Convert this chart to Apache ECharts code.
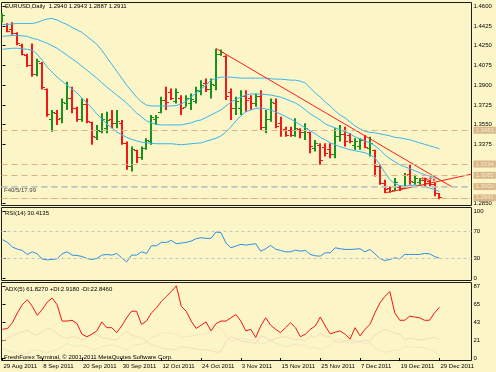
<!DOCTYPE html>
<html><head><meta charset="utf-8">
<script src="https://cdn.jsdelivr.net/npm/echarts@6/dist/echarts.min.js"></script>
<style>html,body{margin:0;padding:0;background:#fcf5c7}#c{width:496px;height:372px}</style>
</head><body><div id="c"></div>
<script>
// ---- data ----
const dateLabels=['29 Aug 2011','8 Sep 2011','20 Sep 2011','30 Sep 2011','12 Oct 2011','24 Oct 2011','3 Nov 2011','15 Nov 2011','25 Nov 2011','7 Dec 2011','19 Dec 2011','29 Dec 2011'];
const barsPerLabel=8;
const open=[1.4465,1.4445,1.4400,1.4365,1.4260,1.4170,1.4080,1.4000,1.4100,1.3870,
1.3600,1.3650,1.3610,1.3745,1.3790,1.3700,1.3600,1.3730,1.3570,1.3440,
1.3490,1.3520,1.3600,1.3560,1.3560,1.3390,1.3180,1.3320,1.3260,1.3345,
1.3400,1.3600,1.3660,1.3770,1.3840,1.3760,1.3790,1.3710,1.3740,1.3760,
1.3850,1.3920,1.3870,1.3900,1.4175,1.4160,1.3840,1.3700,1.3700,1.3800,
1.3790,1.3740,1.3800,1.3530,1.3600,1.3740,1.3560,1.3510,1.3500,1.3460,
1.3510,1.3480,1.3480,1.3340,1.3370,1.3350,1.3330,1.3290,1.3450,1.3470,
1.3460,1.3370,1.3360,1.3410,1.3340,1.3320,1.3180,1.3030,1.2990,1.2970,
1.3000,1.2990,1.3110,1.3040,1.3040,1.3060,1.3050,1.3020,1.2940];
const high=[1.4535,1.4450,1.4458,1.4370,1.4268,1.4179,1.4270,1.4135,1.4105,1.3870,
1.3679,1.3679,1.3782,1.3929,1.3885,1.3708,1.3782,1.3782,1.3575,1.3546,
1.3650,1.3664,1.3679,1.3679,1.3590,1.3400,1.3355,1.3326,1.3355,1.3429,
1.3635,1.3635,1.3796,1.3885,1.3870,1.3870,1.3811,1.3811,1.3826,1.3885,
1.3944,1.3959,1.3959,1.4223,1.4215,1.4164,1.3870,1.3796,1.3855,1.3855,
1.3811,1.3826,1.3855,1.3679,1.3782,1.3782,1.3620,1.3531,1.3531,1.3605,
1.3517,1.3561,1.3487,1.3414,1.3385,1.3385,1.3385,1.3517,1.3546,1.3531,
1.3473,1.3429,1.3429,1.3458,1.3443,1.3326,1.3193,1.3061,1.3000,1.3076,
1.3010,1.3120,1.3193,1.3105,1.3076,1.3078,1.3061,1.3037,1.2943];
const low=[1.4456,1.4370,1.4347,1.4253,1.4164,1.4061,1.3975,1.3979,1.3861,1.3620,
1.3487,1.3546,1.3561,1.3679,1.3650,1.3575,1.3575,1.3561,1.3370,1.3414,
1.3473,1.3473,1.3517,1.3517,1.3370,1.3150,1.3134,1.3208,1.3237,1.3326,
1.3370,1.3546,1.3650,1.3679,1.3767,1.3738,1.3635,1.3708,1.3679,1.3738,
1.3811,1.3840,1.3782,1.3855,1.4160,1.3767,1.3591,1.3635,1.3635,1.3664,
1.3679,1.3708,1.3502,1.3473,1.3575,1.3517,1.3443,1.3443,1.3443,1.3443,
1.3429,1.3414,1.3296,1.3311,1.3193,1.3267,1.3252,1.3252,1.3399,1.3355,
1.3385,1.3326,1.3326,1.3341,1.3267,1.3090,1.3017,1.2943,1.2945,1.2958,
1.2960,1.2987,1.3017,1.3017,1.3017,1.3002,1.3002,1.2913,1.2887];
const close=[1.4520,1.4380,1.4360,1.4270,1.4180,1.4075,1.4000,1.4110,1.3880,1.3640,
1.3660,1.3600,1.3750,1.3790,1.3700,1.3600,1.3730,1.3580,1.3450,1.3500,
1.3600,1.3590,1.3560,1.3580,1.3390,1.3180,1.3330,1.3260,1.3340,1.3410,
1.3620,1.3615,1.3770,1.3750,1.3790,1.3840,1.3700,1.3790,1.3780,1.3860,
1.3900,1.3870,1.3910,1.4180,1.4195,1.3800,1.3700,1.3760,1.3800,1.3770,
1.3740,1.3800,1.3530,1.3600,1.3750,1.3540,1.3500,1.3460,1.3460,1.3520,
1.3480,1.3520,1.3360,1.3390,1.3240,1.3300,1.3290,1.3450,1.3470,1.3400,
1.3400,1.3400,1.3410,1.3350,1.3390,1.3180,1.3030,1.2980,1.2960,1.3040,
1.2985,1.3100,1.3050,1.3080,1.3060,1.3030,1.3020,1.2940,1.2911];
const bbUpper=[1.4438,1.4438,1.4443,1.4447,1.4447,1.4447,1.4447,1.4456,1.4474,1.4487,
1.4491,1.4478,1.4456,1.4438,1.4412,1.4390,1.4368,1.4333,1.4297,1.4262,
1.4209,1.4147,1.4085,1.4024,1.3962,1.3900,1.3847,1.3794,1.3750,1.3724,
1.3715,1.3715,1.3715,1.3715,1.3715,1.3719,1.3732,1.3759,1.3794,1.3830,
1.3865,1.3900,1.3944,1.3962,1.3971,1.3971,1.3971,1.3966,1.3962,1.3962,
1.3962,1.3962,1.3962,1.3962,1.3957,1.3953,1.3953,1.3949,1.3944,1.3944,
1.3935,1.3918,1.3874,1.3830,1.3794,1.3750,1.3715,1.3671,1.3635,1.3609,
1.3574,1.3538,1.3512,1.3490,1.3481,1.3477,1.3468,1.3459,1.3450,1.3437,
1.3432,1.3424,1.3415,1.3402,1.3388,1.3375,1.3362,1.3349,1.3335];
const bbMiddle=[1.4333,1.4337,1.4341,1.4341,1.4337,1.4333,1.4315,1.4306,1.4288,1.4271,
1.4249,1.4227,1.4196,1.4165,1.4134,1.4103,1.4068,1.4033,1.3997,1.3962,
1.3922,1.3883,1.3847,1.3812,1.3777,1.3741,1.3697,1.3653,1.3618,1.3582,
1.3565,1.3551,1.3547,1.3547,1.3547,1.3547,1.3547,1.3556,1.3565,1.3582,
1.3591,1.3613,1.3635,1.3658,1.3680,1.3715,1.3750,1.3772,1.3794,1.3812,
1.3821,1.3821,1.3821,1.3816,1.3812,1.3803,1.3794,1.3777,1.3759,1.3741,
1.3715,1.3680,1.3644,1.3618,1.3591,1.3556,1.3538,1.3521,1.3503,1.3485,
1.3468,1.3441,1.3424,1.3406,1.3388,1.3362,1.3327,1.3282,1.3247,1.3221,
1.3194,1.3176,1.3159,1.3141,1.3123,1.3106,1.3093,1.3079,1.3062];
const bbLower=[1.4218,1.4222,1.4227,1.4227,1.4222,1.4218,1.4209,1.4174,1.4121,1.4059,
1.4015,1.3971,1.3935,1.3900,1.3865,1.3830,1.3785,1.3741,1.3697,1.3644,
1.3600,1.3556,1.3521,1.3485,1.3459,1.3437,1.3419,1.3406,1.3393,1.3388,
1.3384,1.3380,1.3380,1.3380,1.3380,1.3375,1.3371,1.3375,1.3380,1.3384,
1.3388,1.3402,1.3415,1.3428,1.3450,1.3485,1.3529,1.3582,1.3627,1.3662,
1.3680,1.3693,1.3697,1.3689,1.3680,1.3662,1.3644,1.3622,1.3600,1.3574,
1.3547,1.3521,1.3494,1.3468,1.3437,1.3415,1.3388,1.3371,1.3353,1.3340,
1.3327,1.3318,1.3309,1.3300,1.3282,1.3256,1.3194,1.3124,1.3062,1.3026,
1.3009,1.3004,1.3009,1.3013,1.3009,1.3000,1.2987,1.2974,1.2956];
const rsi=[58,54,47,44,42,36,40,37,29,28,
28.5,29.5,37,40,35,34.5,33,30,28.5,30,
35,36,35,37.5,31,25,35,35,40,37.5,
49,49,54,54,57,52,53,54,56,59.5,
61,60,60,69.5,68.5,53,46,48.5,51,50,
51,52,41,44.5,49.5,44,42,40,40,42.5,
41,42,36,34,33.5,38.5,38.5,46,44.5,43.5,
43.5,44,44.5,40,43.5,37,30,27,28.5,31,
29.5,36,36,36,36,37.5,37,33,30.4135];
const adx=[35,36,43,55,65,71,63,52,59,68,
73,65,45,45,46,42,29,26,29,33,
44,37,37,31,39,49,57,57,41,45,
55,61,69,75,81,88,63,57,45,36,
40,44,33,42,45,45,49,53,45,33,
35,25,39,49,40,35,31,37,43,37,
26,29,35,39,50,39,29.5,31.5,33,29,
23,37,27,35,41,55,67,75,81,55,
46,46,51,50,49,46,46,55,61.827];
const plusDI=[12,9,7,6,5,5,9,10,8,6,
9,10,14,18,15,14,16,14,10,11,
14,15,16,15,12,10,15,16,17,19,
26,27,30,31,30,29,25,26,27,28,
29,30,31,38,37,27,20,22,24,23,
22,23,17,18,22,18,16,14,15,17,
15,16,12,13,10,14,15,22,23,19,
18,19,20,17,19,12,9,7,8,10,
9,15,13,14,13,12,11,8,2.918];
const minusDI=[20,24,27,30,32,34,30,28,32,36,
35,30,26,24,26,25,22,24,30,28,
25,24,23,22,28,33,28,26,24,21,
16,15,12,11,11,10,14,13,12,11,
10,10,9,7,8,20,26,24,21,20,
19,18,27,25,21,24,25,26,24,22,
23,21,27,25,30,27,26,20,19,21,
22,21,20,22,20,28,32,35,33,30,
29,22,24,23,22,23,24,25,22.846];
const priceTicks=[1.4600,1.4425,1.4250,1.4075,1.3900,1.3725,1.3550,1.3375,1.2850];
const boxedLevels=[1.3483,1.3194,1.3082,1.3000,1.2941];
const plainLevels=[1.2967,1.2900];
const trendDown=[[43,1.4225],[90.6,1.2995]];
const trendUp=[[77,1.2943],[94.45,1.3110]];
const objectMarks=[[84.6,1.3072],[85.4,1.3064],[86.2,1.3074],[86.9,1.3060],[85.8,1.3050]];
const rsiLevels=[30,70];
const rsiTicks=[0,30,70,100];
const adxTicks=[0,21.75,43.5,65.25,87];

// ---- chart ----
const FONT='Liberation Sans';
const BG='#fcf5c7';
const X_MIN=-0.2, X_MAX=94.45;
const chart=echarts.init(document.getElementById('c'),null,{renderer:'canvas'});
const idx=a=>a.map((v,i)=>[i,v]);
const ohlc=open.map((o,i)=>[i,o,high[i],low[i],close[i]]);
function renderOHLC(params,api){
  const i=api.value(0),o=api.value(1),h=api.value(2),l=api.value(3),c=api.value(4);
  const ph=api.coord([i,h]),pl=api.coord([i,l]),po=api.coord([i,o]),pc=api.coord([i,c]);
  const x=Math.round(ph[0]);
  const col=c>=o?'#1a921a':'#f21818';
  const yo=Math.round(po[1])+0.5,yc=Math.round(pc[1])+0.5;
  return {type:'group',children:[
    {type:'line',shape:{x1:x,y1:ph[1],x2:x,y2:pl[1]},style:{stroke:col,lineWidth:2}},
    {type:'line',shape:{x1:x-3,y1:yo,x2:x,y2:yo},style:{stroke:col,lineWidth:1}},
    {type:'line',shape:{x1:x,y1:yc,x2:x+3,y2:yc},style:{stroke:col,lineWidth:1}}
  ]};
}
const xAxisBase={type:'value',min:X_MIN,max:X_MAX,splitLine:{show:false},axisLine:{show:false},axisTick:{show:false},axisLabel:{show:false}};
const labelStyle={color:'#000',fontSize:6,fontFamily:FONT};
const gridStyle={show:true,left:1.5,right:24.5,borderColor:'#1e1e18',borderWidth:1,backgroundColor:BG};
const bandStyle={color:'#38b6ec',width:1};
const levelLine=(v,boxed)=>({yAxis:v,
  lineStyle:{color:v===1.2967?'#b9c6cf':'#dbb283',type:v===1.2900?[1,2]:[6,4],width:v===1.2967?1.5:1},
  label:boxed?{show:true,position:'end',distance:2,formatter:()=>v.toFixed(4),backgroundColor:'#d8b88a',color:'#f6ead0',fontSize:6,fontFamily:FONT,padding:[1,2,0,2]}:{show:false}});
const option={
  backgroundColor:BG,animation:false,
  grid:[
    Object.assign({top:2.5,height:203},gridStyle),
    Object.assign({top:207.5,height:73},gridStyle),
    Object.assign({top:282.5,height:78},gridStyle)
  ],
  xAxis:[
    Object.assign({gridIndex:0},xAxisBase),
    Object.assign({gridIndex:1},xAxisBase),
    {gridIndex:2,type:'value',min:X_MIN,max:X_MAX,splitLine:{show:false},
     axisLine:{show:false},
     axisTick:{show:true,length:3,lineStyle:{color:'#000'},customValues:dateLabels.map((d,k)=>k*barsPerLabel)},
     axisLabel:Object.assign({show:true,margin:3,align:'left',padding:[0,0,0,1],
       customValues:dateLabels.map((d,k)=>k*barsPerLabel),
       formatter:v=>dateLabels[Math.round(v/barsPerLabel)]||''},labelStyle)}
  ],
  yAxis:[
    {gridIndex:0,type:'value',position:'right',min:1.2832,max:1.4633,splitLine:{show:false},
     axisLine:{show:false},axisTick:{show:true,length:3,lineStyle:{color:'#000'},customValues:priceTicks},
     axisLabel:Object.assign({margin:2,customValues:priceTicks,formatter:v=>v.toFixed(4)},labelStyle)},
    {gridIndex:1,type:'value',position:'right',min:-2.8,max:106,splitLine:{show:false},
     axisLine:{show:false},axisTick:{show:true,length:3,lineStyle:{color:'#000'},customValues:rsiTicks},
     axisLabel:Object.assign({margin:2,customValues:rsiTicks,formatter:v=>String(v)},labelStyle)},
    {gridIndex:2,type:'value',position:'right',min:-3,max:92,splitLine:{show:false},
     axisLine:{show:false},axisTick:{show:true,length:3,lineStyle:{color:'#000'},customValues:adxTicks},
     axisLabel:Object.assign({margin:2,customValues:adxTicks,formatter:v=>String(Math.floor(v))},labelStyle)}
  ],
  series:[
    {type:'line',xAxisIndex:0,yAxisIndex:0,data:[],silent:true,
     markLine:{silent:true,symbol:'none',animation:false,
       data:boxedLevels.map(v=>levelLine(v,true)).concat(plainLevels.map(v=>levelLine(v,false)))}},
    {type:'line',xAxisIndex:0,yAxisIndex:0,data:idx(bbUpper),showSymbol:false,lineStyle:bandStyle,silent:true},
    {type:'line',xAxisIndex:0,yAxisIndex:0,data:idx(bbMiddle),showSymbol:false,lineStyle:bandStyle,silent:true},
    {type:'line',xAxisIndex:0,yAxisIndex:0,data:idx(bbLower),showSymbol:false,lineStyle:bandStyle,silent:true},
    {type:'custom',xAxisIndex:0,yAxisIndex:0,data:ohlc,renderItem:renderOHLC,encode:{x:0,y:[1,2,3,4]},clip:true,silent:true},
    {type:'line',xAxisIndex:0,yAxisIndex:0,data:trendDown,showSymbol:false,lineStyle:{color:'#ff1c1c',width:1},clip:true,silent:true},
    {type:'line',xAxisIndex:0,yAxisIndex:0,data:trendUp,showSymbol:false,lineStyle:{color:'#ff1c1c',width:1},clip:true,silent:true},
    {type:'scatter',xAxisIndex:0,yAxisIndex:0,data:objectMarks,symbol:'diamond',symbolSize:3,itemStyle:{color:'#ff1c1c'},silent:true},
    {type:'line',xAxisIndex:1,yAxisIndex:1,data:idx(rsi),showSymbol:false,lineStyle:{color:'#2a8fe6',width:1},silent:true,
     markLine:{silent:true,symbol:'none',label:{show:false},lineStyle:{color:'#c4c4c4',type:[3,3],width:1},data:rsiLevels.map(v=>({yAxis:v}))}},
    {type:'line',xAxisIndex:2,yAxisIndex:2,data:idx(plusDI),showSymbol:false,lineStyle:{color:'#f3e5c6',width:1},silent:true},
    {type:'line',xAxisIndex:2,yAxisIndex:2,data:idx(minusDI),showSymbol:false,lineStyle:{color:'#f3dcbc',width:1},silent:true},
    {type:'line',xAxisIndex:2,yAxisIndex:2,data:idx(adx),showSymbol:false,lineStyle:{color:'#f41414',width:1},silent:true}
  ],
  graphic:[
    {type:'text',left:5,top:3,style:{text:'EURUSD,Daily  '+[open[88],high[88],low[88],close[88]].map(v=>v.toFixed(4)).join(' '),font:'6px '+FONT,fill:'#000'}},
    {type:'text',left:4,top:187,style:{text:'F40/5/17.99',font:'6px '+FONT,fill:'#444'}},
    {type:'text',left:5,top:210,style:{text:'RSI(14) '+rsi[88].toFixed(4),font:'6px '+FONT,fill:'#000'}},
    {type:'text',left:5,top:286,style:{text:'ADX(5) '+adx[88].toFixed(4)+' +DI:'+plusDI[88].toFixed(4)+' -DI:'+minusDI[88].toFixed(4),font:'6px '+FONT,fill:'#000'}},
    {type:'text',left:4,top:354,style:{text:'FreshForex Terminal, \u00a9 2001-2011 MetaQuotes Software Corp.',font:'6px '+FONT,fill:'#000'}}
  ]
};
chart.setOption(option);
</script></body></html>
